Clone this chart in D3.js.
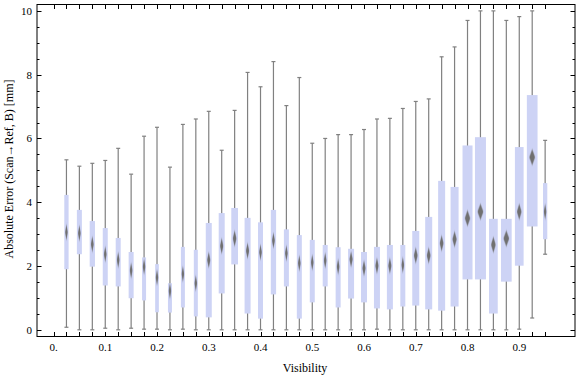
<!DOCTYPE html>
<html lang="en">

<head>
	<title>Absolute error vs visibility</title>
	<meta charset="utf-8">
	<style>
		body {
			margin: 0;
			background: #fff;
		}

		svg {
			display: block;
			font-family: 'Liberation Serif', 'DejaVu Serif', serif;
		}

		.frame {
			fill: none;
			stroke: #000;
			stroke-width: 1;
		}

		.tick-line {
			stroke: #000;
			stroke-width: 1;
		}

		.whisker {
			stroke: #808080;
			stroke-width: 1.2;
		}

		.box {
			fill: #cdd3f5;
		}

		.median {
			fill: #6f6f6f;
		}

		.tick-label {
			font-size: 11px;
		}

		.axis-title {
			font-size: 12px;
		}
	</style>
</head>

<body>
	<svg width="576" height="377"></svg>

	<script src="https://d3js.org/d3.v7.min.js"></script>
	<script type="text/javascript">
		// visibility bins (box centres)
		var visibility = [0.025, 0.05, 0.075, 0.1, 0.125, 0.15, 0.175, 0.2, 0.225, 0.25,
			0.275, 0.3, 0.325, 0.35, 0.375, 0.4, 0.425, 0.45, 0.475, 0.5,
			0.525, 0.55, 0.575, 0.6, 0.625, 0.65, 0.675, 0.7, 0.725, 0.75,
			0.775, 0.8, 0.825, 0.85, 0.875, 0.9, 0.925, 0.95];

		// absolute error in mm
		var whiskerLow = [0.08, 0, 0, 0.05, 0, 0.05, 0.02, 0.02, 0, 0.02,
			0, 0, 0, 0, 0, 0, 0, 0, 0, 0,
			0, 0, 0, 0, 0.02, 0, 0, 0, 0, 0,
			0, 0, 0, 0, 0, 0.02, 0.37, 2.37];
		var quart1 = [1.90, 2.37, 1.98, 1.39, 1.36, 0.99, 0.92, 0.55, 0.54, 0.70,
			0.42, 0.39, 1.14, 2.05, 0.51, 0.35, 1.11, 1.36, 0.35, 0.86,
			1.36, 0.70, 0.98, 0.86, 0.67, 0.64, 0.73, 0.76, 0.64, 0.60,
			0.73, 1.58, 1.58, 0.51, 1.51, 2.01, 3.24, 2.84];
		var median = [3.06, 3.03, 2.68, 2.37, 2.19, 1.86, 1.98, 1.64, 1.22, 1.75,
			1.46, 2.19, 2.63, 2.86, 2.48, 2.43, 2.80, 2.40, 2.09, 2.11,
			2.17, 1.98, 2.21, 1.93, 2.01, 2.01, 2.03, 2.33, 2.33, 2.71,
			2.84, 3.50, 3.70, 2.67, 2.86, 3.70, 5.41, 3.70];
		var quart3 = [4.23, 3.76, 3.41, 3.19, 2.88, 2.44, 2.27, 2.06, 1.46, 2.60,
			2.51, 3.35, 3.66, 3.82, 3.51, 3.37, 3.76, 3.15, 2.97, 2.82,
			2.66, 2.59, 2.54, 2.44, 2.60, 2.66, 2.66, 3.10, 3.54, 4.67,
			4.48, 5.78, 6.04, 3.48, 3.48, 5.73, 7.36, 4.60];
		var whiskerHigh = [5.33, 5.13, 5.22, 5.31, 5.69, 4.88, 6.07, 6.35, 5.10, 6.44,
			6.61, 6.85, 5.63, 6.88, 8.07, 7.62, 8.41, 7.03, 7.91, 5.85,
			6.00, 6.12, 6.12, 6.28, 6.61, 6.63, 6.94, 7.16, 7.24, 8.56,
			8.87, 9.70, 10, 10, 9.70, 9.82, 10, 5.94];
		// relative sample weight of each bin (drives box width)
		var weight = [43, 50, 53, 50, 50, 50, 40, 37, 40, 40,
			40, 60, 60, 67, 60, 50, 53, 50, 50, 50,
			50, 50, 60, 60, 60, 60, 50, 70, 70, 70,
			80, 100, 110, 87, 107, 87, 107, 43];

		var xTickValues = d3.range(0, 0.951, 0.025);
		var xLabelValues = [0, 0.1, 0.2, 0.3, 0.4, 0.5, 0.6, 0.7, 0.8, 0.9];
		var yLabelValues = [0, 2, 4, 6, 8, 10];
		var yMinorValues = d3.range(0, 10.01, 0.5);

		var data = visibility.map(function(v, i) {
			return {
				v: v,
				lo: whiskerLow[i],
				q1: quart1[i],
				med: median[i],
				q3: quart3[i],
				hi: whiskerHigh[i],
				w: weight[i]
			};
		});

		var plot = { left: 37, right: 575, top: 4.5, bottom: 336.5 };

		var x = d3.scaleLinear().domain([-0.0319, 1.0077]).range([plot.left, plot.right]);
		var y = d3.scaleLinear().domain([-0.21, 10.2]).range([plot.bottom, plot.top]);
		var width = d3.scaleLinear().domain([0, 110]).range([0, 11]);

		var svg = d3.select("svg");

		var defs = svg.append("defs");
		defs.append("filter").attr("id", "soft")
			.attr("x", "-50%").attr("y", "-50%").attr("width", "200%").attr("height", "200%")
			.append("feGaussianBlur").attr("stdDeviation", "0.5 1.2");

		// whiskers first, boxes on top
		var groups = svg.selectAll(".bin").data(data)
			.enter().append("g")
			.attr("class", "bin")
			.attr("transform", function(d) {
				return "translate(" + x(d.v) + ",0)";
			});

		groups.append("line")
			.attr("class", "whisker")
			.attr("x1", 0).attr("x2", 0)
			.attr("y1", function(d) { return y(d.lo); })
			.attr("y2", function(d) { return y(d.hi); });

		groups.append("line")
			.attr("class", "whisker")
			.attr("x1", -2).attr("x2", 2)
			.attr("y1", function(d) { return y(d.hi); })
			.attr("y2", function(d) { return y(d.hi); });

		groups.append("line")
			.attr("class", "whisker")
			.attr("x1", -2).attr("x2", 2)
			.attr("y1", function(d) { return y(d.lo); })
			.attr("y2", function(d) { return y(d.lo); });

		groups.append("rect")
			.attr("class", "box")
			.attr("x", function(d) { return -width(d.w) / 2; })
			.attr("width", function(d) { return width(d.w); })
			.attr("y", function(d) { return y(d.q3); })
			.attr("height", function(d) { return y(d.q1) - y(d.q3); });

		groups.append("path")
			.attr("class", "median")
			.attr("filter", "url(#soft)")
			.attr("d", function(d) {
				var hw = Math.max(1.3, width(d.w) * 0.27);
				var cy = y(d.med);
				return "M0," + (cy - 8) + "L" + hw + "," + cy + "L0," + (cy + 8) + "L" + (-hw) + "," + cy + "Z";
			});

		// frame
		svg.append("rect")
			.attr("class", "frame")
			.attr("x", plot.left).attr("y", plot.top)
			.attr("width", plot.right - plot.left)
			.attr("height", plot.bottom - plot.top);

		// x ticks, bottom and top, pointing inward
		var xt = svg.append("g");
		xTickValues.forEach(function(t) {
			var px = Math.round(x(t)) + 0.5;
			xt.append("line").attr("class", "tick-line")
				.attr("x1", px).attr("x2", px)
				.attr("y1", plot.bottom).attr("y2", plot.bottom - 4.5);
			xt.append("line").attr("class", "tick-line")
				.attr("x1", px).attr("x2", px)
				.attr("y1", plot.top).attr("y2", plot.top + 4.5);
		});

		svg.selectAll(".x-label").data(xLabelValues)
			.enter().append("text")
			.attr("class", "tick-label")
			.attr("text-anchor", "middle")
			.attr("x", function(d) { return x(d); })
			.attr("y", 351)
			.text(function(d) { return d === 0 ? "0." : d3.format(".1f")(d); });

		// y ticks, left and right
		var yt = svg.append("g");
		yMinorValues.forEach(function(t) {
			var py = Math.round(y(t)) + 0.5;
			var len = (t % 2 === 0) ? 4.5 : 2.5;
			yt.append("line").attr("class", "tick-line")
				.attr("x1", plot.left).attr("x2", plot.left + len)
				.attr("y1", py).attr("y2", py);
			yt.append("line").attr("class", "tick-line")
				.attr("x1", plot.right).attr("x2", plot.right - len)
				.attr("y1", py).attr("y2", py);
		});

		svg.selectAll(".y-label").data(yLabelValues)
			.enter().append("text")
			.attr("class", "tick-label")
			.attr("text-anchor", "end")
			.attr("x", 32)
			.attr("y", function(d) { return y(d); })
			.attr("dy", "0.35em")
			.text(function(d) { return d; });

		svg.append("text")
			.attr("class", "axis-title")
			.attr("text-anchor", "middle")
			.attr("x", 305)
			.attr("y", 372)
			.text("Visibility");

		svg.append("text")
			.attr("class", "axis-title")
			.attr("text-anchor", "middle")
			.attr("transform", "translate(12.5,169) rotate(-90)")
			.text("Absolute Error (Scan\u2192Ref, B) [mm]");
	</script>
</body>

</html>
